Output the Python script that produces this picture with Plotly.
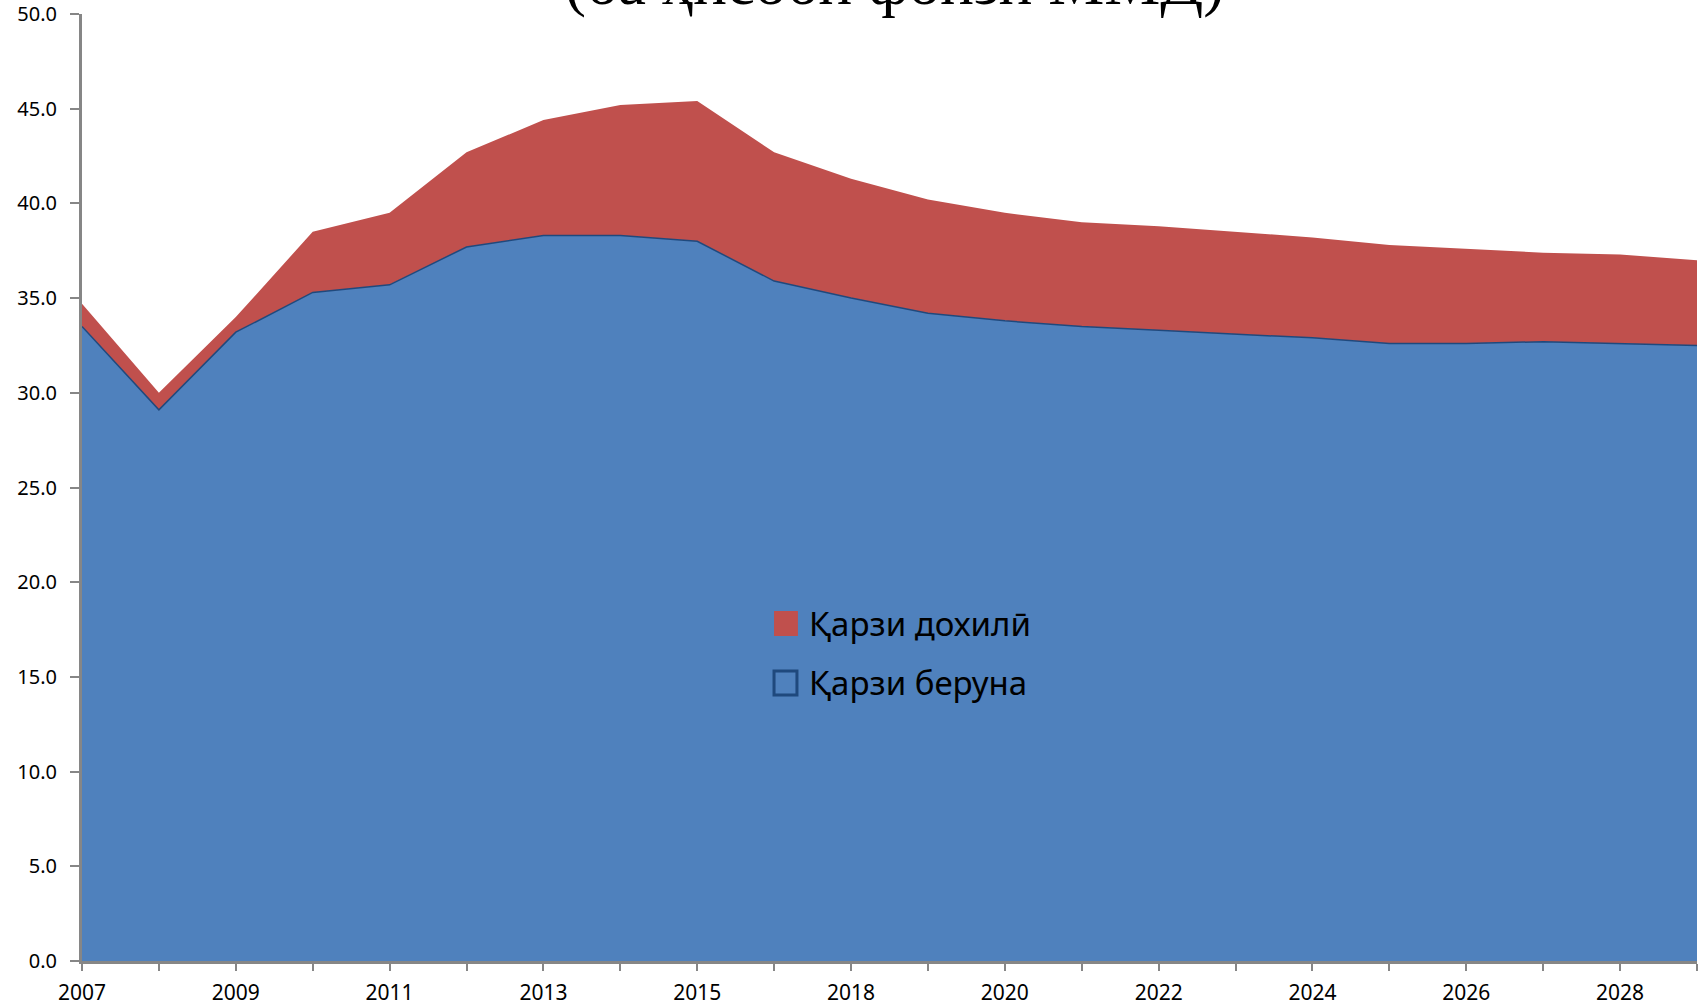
import plotly.graph_objects as go

years = ["2007", "2008", "2009", "2010", "2011", "2012", "2013", "2014", "2015", "2016",
         "2018", "2019", "2020", "2021", "2022", "2023", "2024", "2025", "2026", "2027",
         "2028", "2029"]
external_debt = [33.5, 29.1, 33.2, 35.3, 35.7, 37.7, 38.3, 38.3, 38.0, 35.9,
                 35.0, 34.2, 33.8, 33.5, 33.3, 33.1, 32.9, 32.6, 32.6, 32.7,
                 32.6, 32.5]
domestic_debt = [1.2, 0.9, 0.8, 3.2, 3.8, 5.0, 6.1, 6.9, 7.4, 6.8,
                 6.3, 6.0, 5.7, 5.5, 5.5, 5.4, 5.3, 5.2, 5.0, 4.7,
                 4.7, 4.5]
series_names = ["Қарзи дохилӣ", "Қарзи беруна"]
tick_text = [y if i % 2 == 0 else "" for i, y in enumerate(years)]
y_ticks = [0, 5, 10, 15, 20, 25, 30, 35, 40, 45, 50]

BLUE = "#4F81BD"
BLUE_EDGE = "#1F497D"
RED = "#C0504D"

fig = go.Figure()
fig.add_trace(go.Scatter(
    x=years, y=external_debt, name=series_names[1], stackgroup="one",
    fill="tozeroy", mode="lines", line=dict(color=BLUE_EDGE, width=1.5),
    fillcolor=BLUE, showlegend=False))
fig.add_trace(go.Scatter(
    x=years, y=domestic_debt, name=series_names[0], stackgroup="one",
    fill="tonexty", mode="lines", line=dict(color=RED, width=0),
    fillcolor=RED, showlegend=False))

# legend drawn by hand (large square swatches like the original)
legend_font = dict(family="Noto Sans, Open Sans, sans-serif", size=33, color="#000000")
fig.add_shape(type="rect", xref="paper", yref="paper",
              x0=0.4285, x1=0.4433, y0=0.3432, y1=0.3696,
              fillcolor=RED, line=dict(width=0))
fig.add_shape(type="rect", xref="paper", yref="paper",
              x0=0.4285, x1=0.4427, y0=0.2808, y1=0.3062,
              fillcolor=BLUE, line=dict(color=BLUE_EDGE, width=3))
fig.add_annotation(text=series_names[0], xref="paper", yref="paper",
                   x=0.4489, y=0.3559, xanchor="left", yanchor="middle",
                   showarrow=False, font=legend_font)
fig.add_annotation(text=series_names[1], xref="paper", yref="paper",
                   x=0.4489, y=0.2936, xanchor="left", yanchor="middle",
                   showarrow=False, font=legend_font)

fig.add_annotation(text="(ба ҳисоби фоизи ММД)", xref="paper", yref="paper",
                   x=0.503, y=1, xanchor="center", yanchor="bottom", yshift=-6,
                   showarrow=False,
                   font=dict(family="Liberation Serif, DejaVu Serif, serif", size=63, color="#000000"))

fig.update_layout(
    width=1705, height=1005,
    margin=dict(l=82, r=8, t=14, b=44, autoexpand=False),
    paper_bgcolor="white", plot_bgcolor="white",
    font=dict(family="Noto Sans, Open Sans, sans-serif", color="#000000"),
    showlegend=False,
    xaxis=dict(type="category", range=[0, len(years) - 1],
               tickmode="array", tickvals=years, ticktext=tick_text,
               showline=True, linecolor="#868686", linewidth=3,
               ticks="outside", ticklen=7, tickwidth=2, tickcolor="#868686",
               showgrid=False, zeroline=False, ticklabelstandoff=4,
               tickfont=dict(size=21, color="#000000")),
    yaxis=dict(range=[0, 50], tickmode="array", tickvals=y_ticks,
               tickformat=".1f", showline=True, linecolor="#868686", linewidth=3,
               ticks="outside", ticklen=9, tickwidth=2, tickcolor="#868686",
               showgrid=False, zeroline=False, ticklabelstandoff=9,
               tickfont=dict(size=20, color="#000000")),
)

fig.write_html("out.html", config={"displayModeBar": False},
               post_script="document.body.style.margin='0px';")
